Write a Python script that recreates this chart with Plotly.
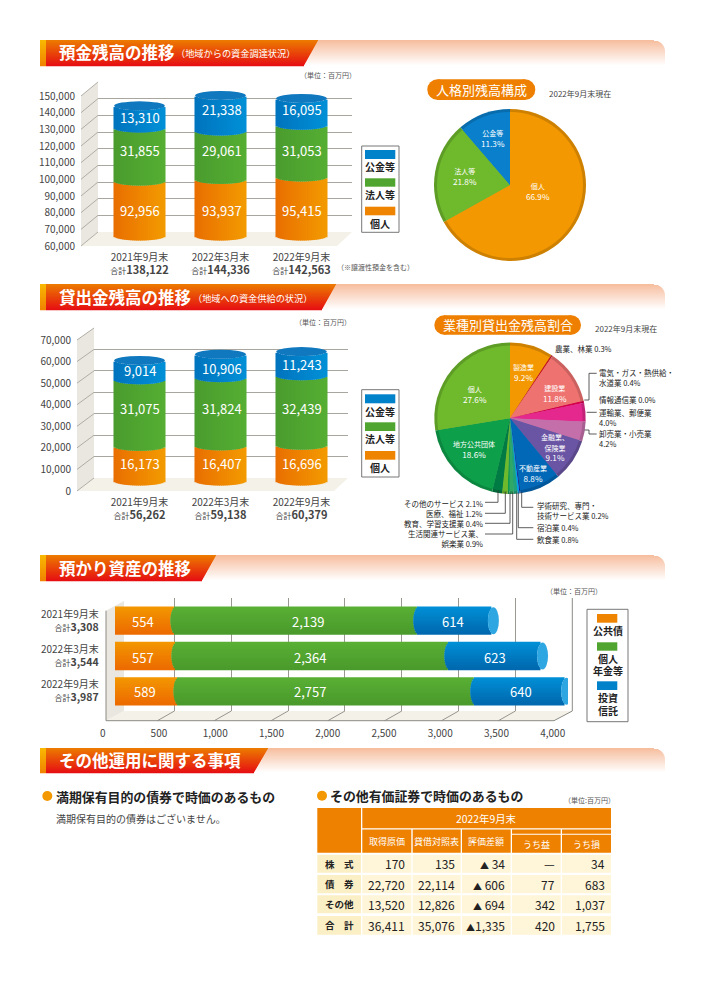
import math
import plotly.graph_objects as go

# ---------- data ----------
periods = ["2021年9月末", "2022年3月末", "2022年9月末"]

dep_personal = [92956, 93937, 95415]
dep_corporate = [31855, 29061, 31053]
dep_public = [13310, 21338, 16095]
dep_totals = [138122, 144336, 142563]

loan_personal = [16173, 16407, 16696]
loan_corporate = [31075, 31824, 32439]
loan_public = [9014, 10906, 11243]
loan_totals = [56262, 59138, 60379]

asset_bonds = [554, 557, 589]
asset_pension = [2139, 2364, 2757]
asset_trusts = [614, 623, 640]
asset_totals = [3308, 3544, 3987]
# segment lengths as actually drawn in the reference (its bars are not exactly
# to scale with their printed labels)
asset_bonds_drawn = [538, 547, 565]
asset_pension_drawn = [2145, 2410, 2621]
asset_trusts_drawn = [658, 818, 801]

pie1_labels = ["個人", "法人等", "公金等"]
pie1_values = [66.9, 21.8, 11.3]
pie1_colors = ["#F39800", "#6FB92C", "#0A80CC"]

pie2_labels = ["製造業", "農業、林業", "建設業", "電気・ガス・熱供給・水道業", "情報通信業", "運輸業、郵便業",
               "卸売業・小売業", "金融業、保険業", "不動産業", "学術研究、専門・技術サービス業", "宿泊業", "飲食業",
               "生活関連サービス業、娯楽業", "教育、学習支援業", "医療、福祉", "その他のサービス", "地方公共団体", "個人"]
pie2_values = [9.2, 0.3, 11.8, 0.4, 0.0, 4.0, 4.2, 9.1, 8.8, 0.2, 0.4, 0.8, 0.9, 0.4, 1.2, 2.1, 18.6, 27.6]
pie2_colors = ["#F39800", "#C9171E", "#EE7370", "#D7004A", "#D7004A", "#E5288E", "#C56FAA", "#6A55A4", "#0068B7",
               "#1D2088", "#00A0E9", "#1FA37A", "#2FA866", "#0F9B50", "#6FB92C", "#007B43", "#0E9F4B", "#6FB92C"]

table_rows = ["株　式", "債　券", "その他", "合　計"]
table_heads = ["取得原価", "貸借対照表", "評価差額", "うち益", "うち損"]
tbl_cost = ["170", "22,720", "13,520", "36,411"]
tbl_book = ["135", "22,114", "12,826", "35,076"]
tbl_diff = ["▲ 34", "▲ 606", "▲ 694", "▲1,335"]
tbl_gain = ["—", "77", "342", "420"]
tbl_loss = ["34", "683", "1,037", "1,755"]

# ---------- helpers ----------
FONT = "Noto Sans CJK JP"
W, H = 707, 1000
shapes, annos, traces, axes = [], [], [], {}
nsub = 0


def px(x):
    return x / W


def py(y):
    return 1 - y / H


def hex2(c):
    c = c.lstrip("#")
    return [int(c[i:i + 2], 16) for i in (0, 2, 4)]


def lerp(a, b, t):
    a, b = hex2(a), hex2(b)
    return "rgb(%d,%d,%d)" % tuple(round(a[i] + (b[i] - a[i]) * t) for i in range(3))


def dark(c, f=0.85):
    r, g, b = hex2(c)
    return "rgb(%d,%d,%d)" % (r * f, g * f, b * f)


def rect(x0, y0, x1, y1, color, layer="below", line=None, lw=1):
    shapes.append(dict(type="rect", xref="paper", yref="paper", x0=px(x0), x1=px(x1), y0=py(y0), y1=py(y1),
                       fillcolor=color, layer=layer,
                       line=dict(width=lw if line else 0, color=line or "rgba(0,0,0,0)")))


def seg(pts, color="#333", lw=0.8, layer="above"):
    p = "M " + " L ".join(f"{px(x):.5f} {py(y):.5f}" for x, y in pts)
    shapes.append(dict(type="path", xref="paper", yref="paper", path=p, layer=layer,
                       line=dict(color=color, width=lw)))


def poly(pts, color, layer="below"):
    p = "M " + " L ".join(f"{px(x):.5f} {py(y):.5f}" for x, y in pts) + " Z"
    shapes.append(dict(type="path", xref="paper", yref="paper", path=p, layer=layer, fillcolor=color,
                       line=dict(width=0, color="rgba(0,0,0,0)")))


def disc(cx, cy, rx, ry, color, layer="below"):
    shapes.append(dict(type="circle", xref="paper", yref="paper", x0=px(cx - rx), x1=px(cx + rx),
                       y0=py(cy - ry), y1=py(cy + ry), fillcolor=color, layer=layer,
                       line=dict(width=0, color="rgba(0,0,0,0)")))


def text(x, y, s, size=8, color="#333", anchor="center"):
    annos.append(dict(xref="paper", yref="paper", x=px(x), y=py(y), text=s, showarrow=False, xanchor=anchor,
                      yanchor="middle", borderpad=0, align=anchor if anchor != "center" else "center",
                      font=dict(family=FONT, size=size, color=color)))


def subplot(xdom, ydom, xa, ya):
    global nsub
    nsub += 1
    n = nsub
    hidden = dict(showgrid=False, zeroline=False, showline=False, ticks="", showticklabels=False, automargin=False)
    axes[f"xaxis{n}"] = {**hidden, "domain": [px(xdom[0]), px(xdom[1])], "anchor": f"y{n}", **xa}
    axes[f"yaxis{n}"] = {**hidden, "domain": [py(ydom[1]), py(ydom[0])], "anchor": f"x{n}", **ya}
    return f"x{n}", f"y{n}"


def dummy(xr, yr, xa, ya):
    traces.append(go.Scatter(x=[xr], y=[yr], xaxis=xa, yaxis=ya, mode="markers", marker=dict(opacity=0, size=1),
                             hoverinfo="skip", showlegend=False))


def header(top, bottom, sl_top, sl_bot, title, sub=None, subx=None, tsize=16.5):
    h = bottom - top
    for i in range(int(h)):
        y = top + i
        t = i / (h - 1)
        sl = sl_top + (sl_bot - sl_top) * t
        r = 11
        right = 665
        if i < r:
            right = 665 - r + math.sqrt(r * r - (r - i) ** 2)
        rect(sl - 1, y, right, y + 1.25, lerp("#F6BE9F", "#FFFFFF", min(1, t * 1.0)))
        rect(46, y, sl, y + 1.25, lerp("#EC7A00", "#E60F12", t))
        rect(40, y, 46, y + 1.25, lerp("#F9B800", "#F08300", t))
    text(58, (top + bottom) / 2 - 0.5, title, tsize, "#FFFFFF", "left")
    if sub:
        text(subx, (top + bottom) / 2 + 0.5, sub, 9.2, "#FFFFFF", "left")


def pill(x0, x1, y0, y1, s, size=13):
    r = (y1 - y0) / 2
    rect(x0 + r, y0, x1 - r, y1, "#EE7F00")
    disc(x0 + r, y0 + r, r, r, "#EE7F00")
    disc(x1 - r, y0 + r, r, r, "#EE7F00")
    text((x0 + x1) / 2, (y0 + y1) / 2, s, size, "#FFFFFF")


def legend_box(x0, x1, y0, y1):
    rect(x0, y0, x1, y1, "#FFFFFF", line="#777", lw=1)


def cat_ticks(totals):
    return [f"{p}<br><span style='font-size:8px'>合計</span><b style='font-size:11px'>{t:,}</b>"
            for p, t in zip(periods, totals)]


def vchart(series, totals, lo, step, hi, front_x, back_x, right_x, front_bot, front_top, back_bot, back_top, floor_r,
           base_px, scale, label_y, label_x):
    # walls and floor
    poly([(front_x, front_bot), (front_x, front_top), (back_x, back_top), (back_x, back_bot)], "#E9E7DF")
    poly([(front_x, front_bot), (back_x, back_bot), (right_x, back_bot), (floor_r, front_bot)], "#F3F1E8")
    n = round((hi - lo) / step)
    for k in range(n + 1):
        yf = front_bot + (front_top - front_bot) * k / n
        yb = back_bot + (back_top - back_bot) * k / n
        seg([(front_x, yf), (back_x, yb)], "#A8A69E", 0.9, "below")
    # back wall grid
    xa, ya = subplot((back_x, right_x), (back_top, back_bot), dict(range=[0, 1]),
                     dict(range=[lo, hi], dtick=step, tick0=lo, showgrid=True, gridcolor="#A8A69E", gridwidth=1))
    dummy(0, lo, xa, ya)
    # front value labels
    xa, ya = subplot((front_x, right_x), (front_top, front_bot), dict(range=[0, 1]),
                     dict(range=[lo, hi], dtick=step, tick0=lo, showticklabels=True, tickformat=",d", ticks="outside",
                          ticklen=3, tickcolor="rgba(0,0,0,0)", tickfont=dict(family=FONT, size=10, color="#444")))
    dummy(0, lo, xa, ya)
    # bars
    centers_px = [139.5, 221, 301.5]
    unit = (centers_px[2] - centers_px[0]) / 2
    xr = [(back_x - centers_px[0]) / unit, (right_x - centers_px[0]) / unit]
    bot_v = lo + (base_px - front_bot) / scale
    top_v = lo + (base_px - back_top) / scale
    xa, ya = subplot((back_x, right_x), (back_top, front_bot),
                     dict(range=xr, tickvals=[0, 1, 2], ticktext=cat_ticks(totals), showticklabels=True,
                          ticks="outside", ticklen=2, tickcolor="rgba(0,0,0,0)",
                          tickfont=dict(family=FONT, size=10, color="#444")),
                     dict(range=[bot_v, top_v]))
    hw = 25.3 / unit
    ry = 4.5 / scale
    N = 25
    cols = [("#E96E00", "#F39A00"), ("#4A9C2E", "#55AE33"), ("#0073BD", "#0090D7")]
    for s, (vals, cc) in enumerate(zip(series, cols)):
        xs, ys, bs, cs = [], [], [], []
        for i, v in enumerate(vals):
            start = sum(series[j][i] for j in range(s)) if s else lo
            length = v if s else v - lo   # the value axis starts at lo, not at 0
            for k in range(N):
                t = -1 + 2 * (k + 0.5) / N
                xs.append(i + hw * t)
                ys.append(length)
                bs.append(start - ry * math.sqrt(1 - t * t))
                cs.append(lerp(cc[0], cc[1], (t + 1) / 2))
        traces.append(go.Bar(x=xs, y=ys, base=bs, width=2 * hw / N * 1.7, xaxis=xa, yaxis=ya,
                             marker=dict(color=cs, line=dict(width=0)), hoverinfo="skip", showlegend=False))
    for i in range(3):
        top = sum(sr[i] for sr in series)
        shapes.append(dict(type="circle", xref=xa, yref=ya, x0=i - hw, x1=i + hw, y0=top - ry, y1=top + ry,
                           fillcolor="#1078BE", layer="above", line=dict(width=0, color="rgba(0,0,0,0)")))
        for s, sr in enumerate(series):
            text(label_x[i], label_y[i][s], f"{sr[i]:,}", 13, "#FFFFFF")


def bold(s):
    return f"<b>{s}</b>"


# ---------- section headers ----------
header(40, 66, 318, 304, "<b>預金残高の推移</b>", "（地域からの資金調達状況）", 175)
header(284, 310, 336, 322, "<b>貸出金残高の推移</b>", "（地域への資金供給の状況）", 192)
header(555, 581, 216, 202, "<b>預かり資産の推移</b>")
header(748, 773, 268, 254, "<b>その他運用に関する事項</b>")

# ---------- chart 1: deposits ----------
text(327.7, 75.3, "（単位：百万円）", 7, "#555")
vchart([dep_personal, dep_corporate, dep_public], dep_totals, 60000, 10000, 150000,
       81, 98, 352, 246, 96, 232, 82, 337, 236, 150 / 90000,
       [[211, 150.7, 117.7], [211, 150.7, 110], [211, 150.7, 110]], [140.3, 221.7, 301.7])
text(375, 267, "（※譲渡性預金を含む）", 7, "#555")
legend_box(361.7, 399, 146, 232.3)
for (a, b, ty, name, c0, c1) in [(150, 159, 166.7, "公金等", "#0073BD", "#0090D7"),
                                 (178.3, 186.7, 194.3, "法人等", "#4A9C2E", "#55AE33"),
                                 (206.7, 215.3, 223.3, "個人", "#E96E00", "#F39A00")]:
    rect(365, a, 395.3, b, lerp(c0, c1, 0.5))
    text(380.3, ty, bold(name), 10, "#222")

# ---------- chart 2: loans ----------
text(323.3, 321.7, "（単位：百万円）", 7, "#555")
vchart([loan_personal, loan_corporate, loan_public], loan_totals, 0, 10000, 70000,
       77, 94, 348, 491, 340, 478, 328, 334, 481, 150 / 70000,
       [[463.3, 408.3, 370.7], [463.3, 408.3, 368.3], [463.3, 408.3, 364]], [139.7, 221.7, 302])
legend_box(361.7, 399, 389.7, 477)
for (a, b, ty, name, c0, c1) in [(394.3, 403.3, 411, "公金等", "#0073BD", "#0090D7"),
                                 (422.3, 431, 438.7, "法人等", "#4A9C2E", "#55AE33"),
                                 (451, 459.7, 467.3, "個人", "#E96E00", "#F39A00")]:
    rect(365, a, 395.3, b, lerp(c0, c1, 0.5))
    text(380.3, ty, bold(name), 10, "#222")

# ---------- chart 3: assets (horizontal) ----------
text(573.7, 590.7, "（単位：百万円）", 7, "#555")
poly([(106, 720.7), (106, 610.7), (124, 601), (124, 711)], "#E9E7DF")
poly([(106, 720.7), (124, 711), (572.3, 711), (554, 720.7)], "#F3F1E8")
seg([(106, 610.7), (106, 720.7), (554, 720.7), (572.3, 711), (572.3, 598)], "#8C8A84", 1, "below")
for k in range(1, 8):
    xb = 117.6 + 56.83 * k
    seg([(xb, 711), (xb - 17, 720.7)], "#8C8A84", 0.9, "below")
xa, ya = subplot((117.6, 572.3), (598, 711),
                 dict(range=[0, 4000], tickvals=list(range(500, 4000, 500)), showgrid=True, gridcolor="#9A9890", gridwidth=1),
                 dict(range=[0, 1]))
dummy(0, 0, xa, ya)
ypitch = 35.3
xa, ya = subplot((102.7, 552.7), (598, 720.7),
                 dict(range=[0, 4000], dtick=500, tick0=0, tickformat=",d", showticklabels=True, ticks="outside", ticklen=3,
                      tickcolor="rgba(0,0,0,0)", tickfont=dict(family=FONT, size=10, color="#444")),
                 dict(range=[(720.7 - 620.7) / ypitch, (598 - 620.7) / ypitch], tickvals=[0, 1, 2],
                      ticktext=[f"{p}<br><span style='font-size:8px'>合計</span><b style='font-size:10.5px'>{t:,}</b>"
                                for p, t in zip(periods, asset_totals)],
                      showticklabels=True, ticks="outside", ticklen=1, tickcolor="rgba(0,0,0,0)",
                      tickfont=dict(family=FONT, size=10, color="#444")))
dummy(0, 0, xa, ya)
xa, ya = subplot((115, 568), (598, 720.7), dict(range=[0, 4000]),
                 dict(range=[(720.7 - 620.7) / ypitch, (598 - 620.7) / ypitch]))
hh = 13.5 / ypitch
rx = 5.5 / (453 / 4000)
N = 15
drawn = [asset_bonds_drawn, asset_pension_drawn, asset_trusts_drawn]
cols3 = [("#F39800", "#EC6A00"), ("#5AB034", "#4A9A2C"), ("#0090D7", "#0068AE")]
for s, (vals, cc) in enumerate(zip(drawn, cols3)):
    xs, ys, bs, cs = [], [], [], []
    for i, v in enumerate(vals):
        start = sum(drawn[j][i] for j in range(s))
        for k in range(N):
            t = -1 + 2 * (k + 0.5) / N
            ys.append(i + hh * t)
            xs.append(v)
            bs.append(start - rx * math.sqrt(1 - t * t))
            cs.append(lerp(cc[0], cc[1], (t + 1) / 2))
    traces.append(go.Bar(y=ys, x=xs, base=bs, width=2 * hh / N * 1.7, orientation="h", xaxis=xa, yaxis=ya,
                         marker=dict(color=cs, line=dict(width=0)), hoverinfo="skip", showlegend=False))
for i in range(3):
    top = sum(d[i] for d in drawn)
    shapes.append(dict(type="circle", xref=xa, yref=ya, x0=top - rx, x1=top + rx, y0=i - hh, y1=i + hh,
                       fillcolor="#2EA6E2", layer="above", line=dict(width=0, color="rgba(0,0,0,0)")))
lab3x = [[143.3, 308.3, 453.3], [143.3, 310, 495], [145, 310, 520.7]]
lab3y = [621, 657.7, 691.7]
for i in range(3):
    for s, sr in enumerate([asset_bonds, asset_pension, asset_trusts]):
        text(lab3x[i][s], lab3y[i], f"{sr[i]:,}", 13, "#FFFFFF")
legend_box(587, 628, 609.3, 721.7)
rect(597, 614, 617.3, 622.7, lerp("#E96E00", "#F39A00", 0.5))
text(607.5, 630, bold("公共債"), 10, "#222")
rect(597, 642.3, 617.3, 650.7, lerp("#4A9C2E", "#55AE33", 0.5))
text(607.5, 658, bold("個人"), 10, "#222")
text(607.5, 670.7, bold("年金等"), 10, "#222")
rect(597, 681.3, 617.3, 690, lerp("#0073BD", "#0090D7", 0.5))
text(607.5, 697.7, bold("投資"), 10, "#222")
text(607.5, 710, bold("信託"), 10, "#222")


# ---------- pies ----------
def pie(cx, cy, R, labels, values, colors, rim=3):
    for r, cl in [(R, [dark(c) for c in colors]), (R - rim, colors)]:
        traces.append(go.Pie(labels=labels, values=values, sort=False, direction="clockwise", rotation=0,
                             textinfo="none", hoverinfo="label+percent", showlegend=False,
                             marker=dict(colors=cl, line=dict(width=0)),
                             domain=dict(x=[px(cx - r), px(cx + r)], y=[py(cy + r), py(cy - r)])))


pill(427.3, 535.3, 79.3, 100, "人格別残高構成")
text(579.6, 94, "2022年9月末現在", 8, "#444")
pie(510, 185, 76, pie1_labels, pie1_values, pie1_colors)
for (x, y, name, v) in [(492.7, 138.3, pie1_labels[2], pie1_values[2]), (465, 176.5, pie1_labels[1], pie1_values[1]),
                        (537.7, 192, pie1_labels[0], pie1_values[0])]:
    text(x, y, f"<span style='font-size:7px'>{name}</span><br>{v:.1f}%", 8.2, "#FFFFFF")

pill(434.3, 581, 315.3, 334.7, "業種別貸出金残高割合")
text(626.3, 329, "2022年9月末現在", 8, "#444")
pie(510, 418.3, 75.7, pie2_labels, pie2_values, pie2_colors)
for (x, y, name, idx) in [(523.7, 372.3, "製造業", 0), (555, 393.2, "建設業", 2), (533.3, 473.6, "不動産業", 8),
                          (474, 449.3, "地方公共団体", 16), (475.3, 394, "個人", 17)]:
    text(x, y, f"<span style='font-size:7px'>{name}</span><br>{pie2_values[idx]:.1f}%", 8.2, "#FFFFFF")
text(555, 448, f"<span style='font-size:7px'>金融業、<br>保険業</span><br>{pie2_values[7]:.1f}%", 8.2, "#FFFFFF")

# outside labels (left aligned / right aligned)
for (x, y, s) in [(554, 348.7, f"農業、林業 {pie2_values[1]}%"),
                  (598.3, 377.5, f"電気・ガス・熱供給・<br>水道業 {pie2_values[3]}%"),
                  (598.3, 399, f"情報通信業 {pie2_values[4]}%"),
                  (598.3, 417.2, f"運輸業、郵便業<br>{pie2_values[5]}%"),
                  (598.3, 438.5, f"卸売業・小売業<br>{pie2_values[6]}%"),
                  (536, 510.8, f"学術研究、専門・<br>技術サービス業 {pie2_values[9]}%"),
                  (536, 527, f"宿泊業 {pie2_values[10]}%"),
                  (536, 539.3, f"飲食業 {pie2_values[11]}%")]:
    text(x, y, s, 7.5, "#222", "left")
for (x, y, s) in [(484, 503.3, f"その他のサービス {pie2_values[15]}%"),
                  (484, 513.7, f"医療、福祉 {pie2_values[14]}%"),
                  (484, 523.3, f"教育、学習支援業 {pie2_values[13]}%"),
                  (484, 538.6, f"生活関連サービス業、<br>娯楽業 {pie2_values[12]}%")]:
    text(x, y, s, 7.5, "#222", "right")

for pts in [[(584.3, 400), (589, 400), (589, 373.3), (596.7, 373.3)],
            [(586.7, 412.3), (596.7, 412.3)],
            [(584.3, 430), (589, 430), (589, 434), (596.7, 434)],
            [(485, 502.3), (498, 502.3), (498, 490.7)],
            [(485, 513.3), (505.3, 513.3), (505.3, 492)],
            [(485, 523.3), (510, 523.3), (510, 492.7)],
            [(485, 534), (512.7, 534), (512.7, 492.7)],
            [(533.3, 539.3), (516.7, 539.3), (516.7, 492.7)],
            [(533.3, 527.7), (518.3, 527.7), (518.3, 492.7)],
            [(533.3, 507.3), (521.7, 507.3), (521.7, 492)]]:
    seg(pts)

# ---------- bottom section ----------
disc(47.3, 796, 5, 5, "#F39800")
text(55, 796, "<b>満期保有目的の債券で時価のあるもの</b>", 12.9, "#222", "left")
text(55, 818.7, "満期保有目的の債券はございません。", 10, "#444", "left")
disc(322, 795.7, 5, 5, "#F39800")
text(329, 795.7, "<b>その他有価証券で時価のあるもの</b>", 12.9, "#222", "left")
text(589.3, 800, "（単位:百万円）", 7, "#555")

OR = "#EE8100"
cols_x = [(317.3, 361), (362.3, 411.3), (412.7, 460.7), (462, 510.7), (512, 560.7), (562, 611)]
rows_y = [(854.7, 872.7), (875, 893.3), (895.3, 913.3), (916, 934.7)]
rect(317.3, 808, 361, 852.7, OR)
rect(362.3, 808, 611, 828.3, OR)
text(486.5, 818.3, "2022年9月末", 10.4, "#FFF")
for j, name in enumerate(table_heads):
    x0, x1 = cols_x[j + 1]
    rect(x0, 829.5, x1, 852.7, OR)
    text((x0 + x1) / 2, 841.7 if j < 3 else 844.3, name, 9, "#FFF")
rect(512, 833.8, 611, 834.8, "#FFFFFF", layer="below")
columns = [tbl_cost, tbl_book, tbl_diff, tbl_gain, tbl_loss]
for i, (y0, y1) in enumerate(rows_y):
    x0, x1 = cols_x[0]
    rect(x0, y0, x1, y1, "#FBEFC6")
    text((x0 + x1) / 2, (y0 + y1) / 2, f"<b>{table_rows[i]}</b>", 9.5, "#222")
    for j, col in enumerate(columns):
        x0, x1 = cols_x[j + 1]
        rect(x0, y0, x1, y1, "#FFF5D9")
        s = col[i].replace("▲", "<span style='font-size:9px'>▲</span>")
        text(x1 - 5, (y0 + y1) / 2, s, 12, "#222", "right")

# ---------- figure ----------
fig = go.Figure(traces)
fig.update_layout(width=W, height=H, margin=dict(l=0, r=0, t=0, b=0, pad=0), paper_bgcolor="#FFFFFF",
                  plot_bgcolor="rgba(0,0,0,0)", barmode="overlay", showlegend=False, shapes=shapes, annotations=annos,
                  font=dict(family=FONT), **axes)
fig.write_html("out.html", config={"displayModeBar": False}, post_script="document.body.style.margin='0';")
